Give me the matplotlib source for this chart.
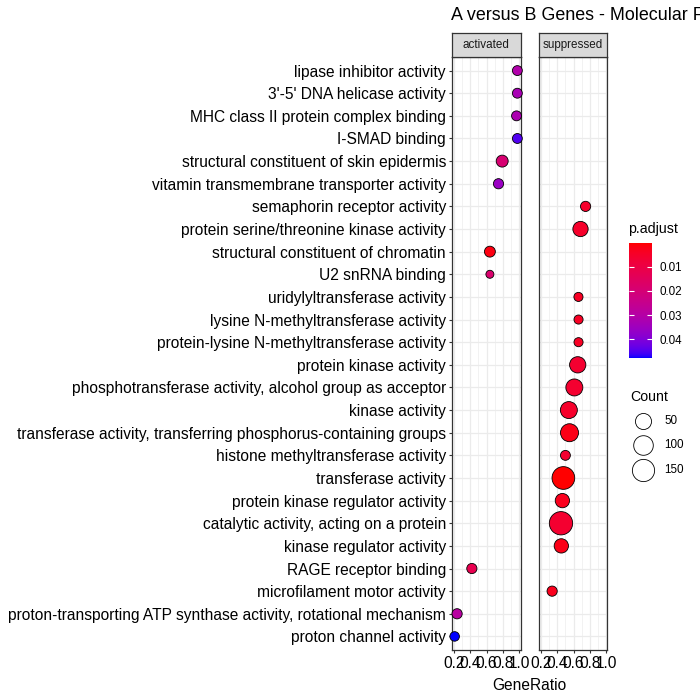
import numpy as np
import matplotlib
matplotlib.use("Agg")
import matplotlib.pyplot as plt
from matplotlib.colors import ListedColormap, Normalize

plt.rcParams['font.family'] = ['Liberation Sans', 'DejaVu Sans']

# ---------------- data ----------------
title = "A versus B Genes - Molecular Function"
facets = ["activated", "suppressed"]

# categories listed top to bottom
categories = [
    "lipase inhibitor activity",
    "3'-5' DNA helicase activity",
    "MHC class II protein complex binding",
    "I-SMAD binding",
    "structural constituent of skin epidermis",
    "vitamin transmembrane transporter activity",
    "semaphorin receptor activity",
    "protein serine/threonine kinase activity",
    "structural constituent of chromatin",
    "U2 snRNA binding",
    "uridylyltransferase activity",
    "lysine N-methyltransferase activity",
    "protein-lysine N-methyltransferase activity",
    "protein kinase activity",
    "phosphotransferase activity, alcohol group as acceptor",
    "kinase activity",
    "transferase activity, transferring phosphorus-containing groups",
    "histone methyltransferase activity",
    "transferase activity",
    "protein kinase regulator activity",
    "catalytic activity, acting on a protein",
    "kinase regulator activity",
    "RAGE receptor binding",
    "microfilament motor activity",
    "proton-transporting ATP synthase activity, rotational mechanism",
    "proton channel activity",
]
groups = [
    "activated", "activated", "activated", "activated", "activated", "activated",
    "suppressed", "suppressed", "activated", "activated",
    "suppressed", "suppressed", "suppressed", "suppressed", "suppressed",
    "suppressed", "suppressed", "suppressed", "suppressed", "suppressed",
    "suppressed", "suppressed", "activated", "suppressed", "activated", "activated",
]
gene_ratio = [
    0.975, 0.975, 0.965, 0.975, 0.79, 0.745,
    0.746, 0.684, 0.64, 0.64,
    0.659, 0.66, 0.66, 0.65, 0.609,
    0.542, 0.55, 0.50, 0.475, 0.463,
    0.446, 0.45, 0.42, 0.338, 0.24, 0.21,
]
counts = [
    8, 8, 8, 8, 18, 9,
    9, 49, 12, 5,
    6, 6, 6, 62, 72,
    72, 88, 8, 185, 38,
    200, 38, 9, 9, 9, 7,
]
p_adjust = [
    0.031, 0.033, 0.032, 0.045, 0.019, 0.036,
    0.005, 0.005, 0.0015, 0.018,
    0.004, 0.004, 0.004, 0.006, 0.006,
    0.005, 0.002, 0.006, 0.0001, 0.003,
    0.006, 0.002, 0.012, 0.003, 0.029, 0.0478,
]
x_ticks = [0.2, 0.4, 0.6, 0.8, 1.0]
x_minor = [0.3, 0.5, 0.7, 0.9]
color_breaks = [0.01, 0.02, 0.03, 0.04]
size_breaks = [50, 100, 150]


# ---------------- colour scale (Lab interpolation red -> blue) ----------------
def srgb_to_lab(rgb):
    rgb = np.asarray(rgb, float)
    lin = np.where(rgb <= 0.04045, rgb / 12.92, ((rgb + 0.055) / 1.055) ** 2.4)
    M = np.array([[0.4124, 0.3576, 0.1805],
                  [0.2126, 0.7152, 0.0722],
                  [0.0193, 0.1192, 0.9505]])
    xyz = M @ lin
    wp = np.array([0.95047, 1.0, 1.08883])
    t = xyz / wp
    f = np.where(t > (6 / 29) ** 3, np.cbrt(t), t / (3 * (6 / 29) ** 2) + 4 / 29)
    return np.array([116 * f[1] - 16, 500 * (f[0] - f[1]), 200 * (f[1] - f[2])])


def lab_to_srgb(lab):
    L, a, b = lab
    fy = (L + 16) / 116
    fx = fy + a / 500
    fz = fy - b / 200
    f = np.array([fx, fy, fz])
    t = np.where(f > 6 / 29, f ** 3, 3 * (6 / 29) ** 2 * (f - 4 / 29))
    wp = np.array([0.95047, 1.0, 1.08883])
    xyz = t * wp
    Minv = np.array([[3.2406, -1.5372, -0.4986],
                     [-0.9689, 1.8758, 0.0415],
                     [0.0557, -0.2040, 1.0570]])
    lin = Minv @ xyz
    lin = np.clip(lin, 0, 1)
    rgb = np.where(lin <= 0.0031308, 12.92 * lin, 1.055 * lin ** (1 / 2.4) - 0.055)
    return np.clip(rgb, 0, 1)


lab_r = srgb_to_lab([1, 0, 0])
lab_b = srgb_to_lab([0, 0, 1])
cols = [lab_to_srgb(lab_r + (lab_b - lab_r) * t) for t in np.linspace(0, 1, 256)]
cmap = ListedColormap(cols)
pmin, pmax = min(p_adjust), max(p_adjust)
norm = Normalize(pmin, pmax)

# ---------------- size scale ----------------
cmin, cmax = min(counts), max(counts)
DPI = 100


def size_pts(c):
    c = np.asarray(c, float)
    d_px = 8.0 + 15.3 * np.sqrt(np.clip((c - cmin) / (cmax - cmin), 0, 1))
    d_pt = d_px * 72 / DPI
    return d_pt ** 2


# ---------------- figure ----------------
W = H = 700
fig = plt.figure(figsize=(W / DPI, H / DPI), dpi=DPI)
fig.patch.set_facecolor("white")


def px_axes(x0, y0, x1, y1):
    return fig.add_axes([x0 / W, 1 - y1 / H, (x1 - x0) / W, (y1 - y0) / H])


n = len(categories)
ypos = {c: n - i for i, c in enumerate(categories)}
xr = max(gene_ratio) - min(gene_ratio)
xlim = (min(gene_ratio) - 0.05 * xr, max(gene_ratio) + 0.05 * xr)

panel_x = [(451.5, 520.5), (538.5, 607.5)]
ptop, pbot = 57, 650
edge = "#333333"
fs = 11.2

for k, (fac, (x0, x1)) in enumerate(zip(facets, panel_x)):
    ax = px_axes(x0, ptop, x1, pbot)
    ax.set_xlim(*xlim)
    ax.set_ylim(0.4, n + 0.6)
    for xv in x_minor:
        ax.axvline(xv, color="#ebebeb", lw=0.45, zorder=0)
    for xv in x_ticks:
        ax.axvline(xv, color="#ebebeb", lw=0.9, zorder=0)
    for yv in range(1, n + 1):
        ax.axhline(yv, color="#ebebeb", lw=0.9, zorder=0)
    idx = [i for i, g in enumerate(groups) if g == fac]
    xs = [gene_ratio[i] for i in idx]
    ys = [ypos[categories[i]] for i in idx]
    cs = [p_adjust[i] for i in idx]
    ss = size_pts([counts[i] for i in idx])
    ax.scatter(xs, ys, s=ss, c=cs, cmap=cmap, norm=norm, edgecolors="black",
               linewidths=0.6, zorder=3, clip_on=False)
    for sp in ax.spines.values():
        sp.set_color(edge)
        sp.set_linewidth(0.9)
    ax.set_xticks(x_ticks)
    ax.set_xticklabels([f"{v:.1f}" for v in x_ticks], fontsize=fs, color="black")
    ax.tick_params(axis="x", length=2.5, width=0.8, color=edge, pad=1.5)
    if k == 0:
        ax.set_yticks(list(range(n, 0, -1)))
        ax.set_yticklabels(categories, fontsize=fs, color="black")
        ax.tick_params(axis="y", length=2.5, width=0.8, color=edge, pad=1.5)
    else:
        ax.set_yticks([])
    # strip
    sax = px_axes(x0, 32.5, x1, ptop)
    sax.set_xticks([]); sax.set_yticks([])
    sax.set_facecolor("#d9d9d9")
    for sp in sax.spines.values():
        sp.set_color(edge)
        sp.set_linewidth(0.9)
    sax.text(0.5, 0.5, fac, ha="center", va="center", fontsize=8.4,
             color="#1a1a1a", transform=sax.transAxes)

# overlay for titles / legends in pixel coordinates
ov = fig.add_axes([0, 0, 1, 1])
ov.set_xlim(0, W); ov.set_ylim(H, 0)
ov.axis("off")
ov.patch.set_alpha(0)

ov.text(451, 15, title, ha="left", va="center", fontsize=12.9, color="black")
ov.text(529, 685, "GeneRatio", ha="center", va="center", fontsize=fs, color="black")

# colour legend
ov.text(628, 229, "p.adjust", ha="left", va="center", fontsize=10.2, color="black")
cax = px_axes(629, 243, 652, 358)
grad = np.linspace(pmin, pmax, 256).reshape(-1, 1)
cax.imshow(grad, aspect="auto", cmap=cmap, norm=norm,
           extent=[0, 1, pmax, pmin], origin="upper")
cax.set_ylim(pmax, pmin)
cax.set_xlim(0, 1)
for sp in cax.spines.values():
    sp.set_visible(False)
cax.set_xticks([])
cax.yaxis.tick_right()
cax.set_yticks(color_breaks)
cax.set_yticklabels([f"{v:.2f}" for v in color_breaks], fontsize=8.4)
cax.tick_params(axis="y", length=0, pad=5.5)
cax.hlines(color_breaks, 0, 0.2, color="white", lw=0.8)
cax.hlines(color_breaks, 0.8, 1, color="white", lw=0.8)

# size legend
ov.text(630, 397, "Count", ha="left", va="center", fontsize=10.2, color="black")
for yc, b in zip([421, 445, 470], size_breaks):
    ov.scatter([643], [yc], s=size_pts([b]) * 1.1, facecolors="white",
               edgecolors="black", linewidths=0.6, clip_on=False)
    ov.text(664, yc, str(b), ha="left", va="center", fontsize=8.4, color="black")

fig.savefig("out.png", dpi=DPI)
